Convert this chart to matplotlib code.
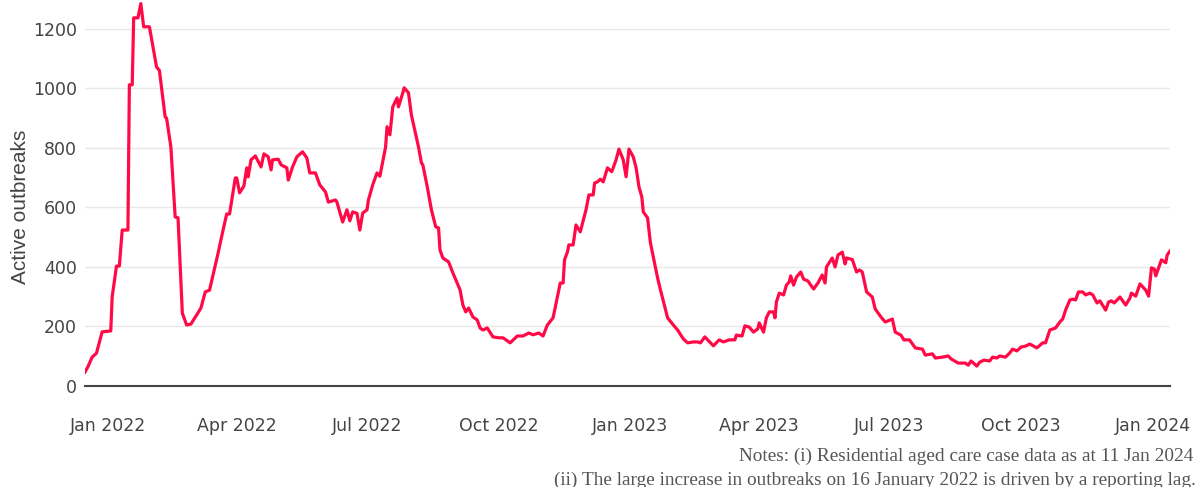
import matplotlib
matplotlib.use("Agg")
import matplotlib.pyplot as plt
import matplotlib.dates as mdates
import pandas as pd

# Active outbreaks in residential aged care
dates = [
    "2021-12-16", "2021-12-18", "2021-12-21", "2021-12-24", "2021-12-28",
    "2022-01-03", "2022-01-04", "2022-01-07", "2022-01-09", "2022-01-11",
    "2022-01-15", "2022-01-16", "2022-01-18", "2022-01-19", "2022-01-22",
    "2022-01-24", "2022-01-26", "2022-01-30", "2022-02-04", "2022-02-06",
    "2022-02-10", "2022-02-11", "2022-02-14", "2022-02-17", "2022-02-19",
    "2022-02-22", "2022-02-25", "2022-02-28", "2022-03-04", "2022-03-07",
    "2022-03-10", "2022-03-13", "2022-03-19", "2022-03-22", "2022-03-25",
    "2022-03-27", "2022-03-31", "2022-04-01", "2022-04-03", "2022-04-06",
    "2022-04-08", "2022-04-09", "2022-04-11", "2022-04-14", "2022-04-18",
    "2022-04-20", "2022-04-23", "2022-04-25", "2022-04-26", "2022-04-30",
    "2022-05-02", "2022-05-06", "2022-05-07", "2022-05-10", "2022-05-13",
    "2022-05-17", "2022-05-20", "2022-05-22", "2022-05-26", "2022-05-29",
    "2022-06-02", "2022-06-04", "2022-06-09", "2022-06-10", "2022-06-14",
    "2022-06-17", "2022-06-19", "2022-06-21", "2022-06-24", "2022-06-26",
    "2022-06-28", "2022-07-01", "2022-07-02", "2022-07-05", "2022-07-08",
    "2022-07-10", "2022-07-14", "2022-07-15", "2022-07-17", "2022-07-19",
    "2022-07-22", "2022-07-23", "2022-07-26", "2022-07-27", "2022-07-30",
    "2022-08-01", "2022-08-06", "2022-08-08", "2022-08-09", "2022-08-12",
    "2022-08-15", "2022-08-18", "2022-08-20", "2022-08-21", "2022-08-23",
    "2022-08-27", "2022-08-30", "2022-09-02", "2022-09-04", "2022-09-06",
    "2022-09-08", "2022-09-10", "2022-09-13", "2022-09-16", "2022-09-18",
    "2022-09-20", "2022-09-23", "2022-09-27", "2022-10-01", "2022-10-04",
    "2022-10-09", "2022-10-14", "2022-10-18", "2022-10-22", "2022-10-25",
    "2022-10-29", "2022-11-01", "2022-11-04", "2022-11-08", "2022-11-11",
    "2022-11-13", "2022-11-15", "2022-11-16", "2022-11-18", "2022-11-19",
    "2022-11-22", "2022-11-24", "2022-11-27", "2022-12-01", "2022-12-03",
    "2022-12-06", "2022-12-07", "2022-12-09", "2022-12-11", "2022-12-13",
    "2022-12-16", "2022-12-19", "2022-12-22", "2022-12-24", "2022-12-27",
    "2022-12-29", "2022-12-31", "2023-01-03", "2023-01-05", "2023-01-07",
    "2023-01-09", "2023-01-10", "2023-01-13", "2023-01-15", "2023-01-20",
    "2023-01-22", "2023-01-27", "2023-01-31", "2023-02-03", "2023-02-07",
    "2023-02-10", "2023-02-14", "2023-02-17", "2023-02-19", "2023-02-22",
    "2023-02-28", "2023-03-04", "2023-03-07", "2023-03-11", "2023-03-15",
    "2023-03-16", "2023-03-20", "2023-03-22", "2023-03-25", "2023-03-28",
    "2023-03-31", "2023-04-01", "2023-04-04", "2023-04-06", "2023-04-08",
    "2023-04-11", "2023-04-12", "2023-04-13", "2023-04-15", "2023-04-18",
    "2023-04-20", "2023-04-22", "2023-04-23", "2023-04-25", "2023-04-27",
    "2023-04-30", "2023-05-02", "2023-05-05", "2023-05-07", "2023-05-09",
    "2023-05-12", "2023-05-15", "2023-05-17", "2023-05-18", "2023-05-22",
    "2023-05-24", "2023-05-26", "2023-05-29", "2023-05-31", "2023-06-01",
    "2023-06-05", "2023-06-08", "2023-06-10", "2023-06-12", "2023-06-15",
    "2023-06-19", "2023-06-21", "2023-06-25", "2023-06-28", "2023-07-03",
    "2023-07-05", "2023-07-09", "2023-07-11", "2023-07-15", "2023-07-19",
    "2023-07-24", "2023-07-26", "2023-07-31", "2023-08-02", "2023-08-07",
    "2023-08-11", "2023-08-13", "2023-08-18", "2023-08-23", "2023-08-25",
    "2023-08-27", "2023-08-31", "2023-09-02", "2023-09-05", "2023-09-09",
    "2023-09-11", "2023-09-14", "2023-09-16", "2023-09-20", "2023-09-23",
    "2023-09-25", "2023-09-28", "2023-10-01", "2023-10-04", "2023-10-07",
    "2023-10-12", "2023-10-16", "2023-10-18", "2023-10-21", "2023-10-25",
    "2023-10-28", "2023-10-30", "2023-11-01", "2023-11-04", "2023-11-06",
    "2023-11-08", "2023-11-10", "2023-11-13", "2023-11-15", "2023-11-18",
    "2023-11-20", "2023-11-23", "2023-11-25", "2023-11-29", "2023-12-01",
    "2023-12-03", "2023-12-05", "2023-12-09", "2023-12-13", "2023-12-16",
    "2023-12-17", "2023-12-20", "2023-12-23", "2023-12-27", "2023-12-29",
    "2023-12-31", "2024-01-02", "2024-01-03", "2024-01-07", "2024-01-10",
    "2024-01-11", "2024-01-13",
]
outbreaks = [
    47, 64, 97, 110, 182,
    185, 300, 403, 403, 524,
    524, 1012, 1012, 1237, 1237,
    1285, 1207, 1207, 1072, 1060,
    904, 900, 803, 568, 565,
    245, 205, 208, 239, 262,
    316, 322, 447, 514, 578,
    578, 699, 699, 649, 672,
    733, 703, 760, 773, 736,
    780, 770, 726, 760, 762,
    743, 733, 692, 736, 770,
    787, 766, 716, 716, 676,
    652, 618, 625, 618, 551,
    592, 555, 585, 580, 524,
    581, 592, 625, 676, 716,
    705, 803, 871, 844, 938,
    968, 938, 985, 1002, 985,
    911, 803, 750, 743, 672,
    592, 535, 531, 457, 430,
    417, 380, 346, 323, 272,
    249, 262, 232, 222, 195,
    188, 195, 165, 162, 162,
    145, 168, 168, 178, 172,
    178, 168, 205, 229, 300,
    346, 346, 424, 450, 474,
    474, 541, 518, 592, 642,
    642, 682, 686, 695, 686,
    733, 720, 760, 796, 760,
    703, 796, 770, 733, 669,
    635, 585, 565, 481, 363,
    323, 229, 205, 188, 158,
    145, 148, 148, 145, 165,
    135, 155, 148, 155, 155,
    171, 168, 202, 198, 181,
    192, 212, 181, 229, 249,
    249, 229, 282, 312, 306,
    339, 350, 370, 339, 366,
    383, 359, 353, 339, 326,
    346, 373, 346, 400, 430,
    400, 440, 450, 410, 430,
    425, 383, 390, 383, 316,
    299, 259, 232, 215, 225,
    181, 171, 155, 155, 128,
    124, 104, 108, 94, 97,
    101, 91, 77, 77, 70,
    84, 67, 80, 87, 84,
    97, 94, 101, 97, 111,
    124, 118, 131, 134, 141,
    128, 145, 145, 188, 195,
    215, 225, 255, 289, 292,
    289, 316, 316, 306, 312,
    306, 279, 286, 255, 282,
    286, 279, 299, 272, 296,
    312, 302, 343, 322, 302,
    397, 393, 370, 424, 414,
    440, 454,
]
y_ticks = [0, 200, 400, 600, 800, 1000, 1200]
x_tick_dates = ["2022-01-01", "2022-04-01", "2022-07-01", "2022-10-01", "2023-01-01",
                "2023-04-01", "2023-07-01", "2023-10-01", "2024-01-01"]
notes = [
    "Notes: (i) Residential aged care case data as at 11 Jan 2024",
    "(ii) The large increase in outbreaks on 16 January 2022 is driven by a reporting lag.",
]

df = pd.DataFrame({"date": pd.to_datetime(dates), "outbreaks": outbreaks})

fig = plt.figure(figsize=(11.97, 4.87), dpi=100)
ax = fig.add_axes([0.071, 0.2074, 0.9065, 0.7926])

ax.plot(df["date"], df["outbreaks"], color="#ff0a47", linewidth=2.3, solid_joinstyle="round")

ax.set_xlim(df["date"].min(), df["date"].max())
ax.set_ylim(0, 1297)
ax.set_yticks(y_ticks)
ax.set_xticks(pd.to_datetime(x_tick_dates))
ax.xaxis.set_major_formatter(mdates.DateFormatter("%b %Y"))

ax.grid(axis="y", color="#e8e8e8", linewidth=1.0)
ax.set_axisbelow(True)
for side in ("top", "right", "left"):
    ax.spines[side].set_visible(False)
ax.spines["bottom"].set_color("#444444")
ax.spines["bottom"].set_linewidth(1.5)
ax.spines["bottom"].set_zorder(3)

ax.tick_params(axis="both", length=0, colors="#444444", labelsize=12.5)
ax.tick_params(axis="x", pad=22)
ax.tick_params(axis="y", pad=6)
for lbl in ax.get_xticklabels() + ax.get_yticklabels():
    lbl.set_family("DejaVu Sans")

fig.text(0.017, 0.575, "Active outbreaks", rotation=90, ha="center", va="center",
         fontsize=15, color="#444444", family="Liberation Sans")

fig.text(0.997, 0.063, notes[0], ha="right", va="center", fontsize=13.9,
         color="#555555", family="Liberation Serif")
fig.text(0.999, 0.013, notes[1], ha="right", va="center", fontsize=13.9,
         color="#555555", family="Liberation Serif")

fig.savefig("out.png", dpi=100, facecolor="white")
plt.close(fig)
